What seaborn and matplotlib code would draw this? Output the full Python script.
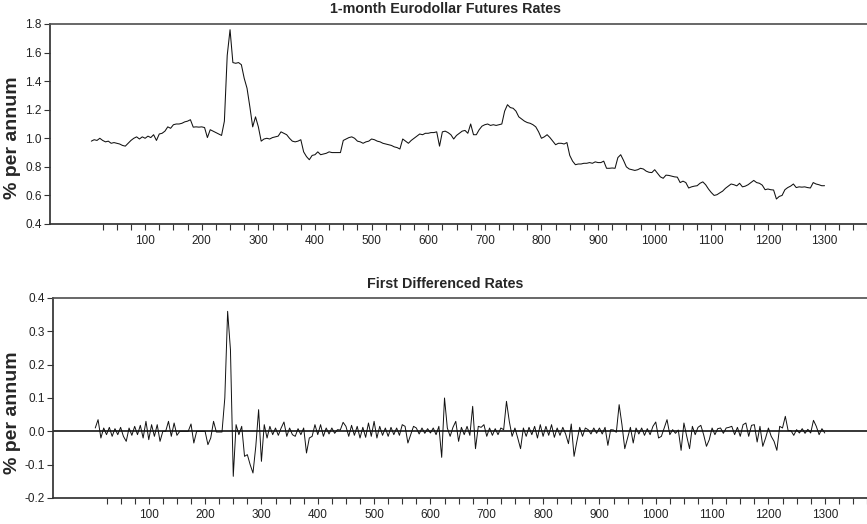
import numpy as np
import pandas as pd
import seaborn as sns
import matplotlib.pyplot as plt
from matplotlib.ticker import MultipleLocator, FormatStrFormatter

# ------------------------------------------------------------------
# data (every 5th trading day)
# ------------------------------------------------------------------
day = np.arange(5, 1301, 5)

rate = [
    0.98, 0.99, 0.985, 1.0, 0.985, 0.975, 0.98, 0.965, 0.97, 0.965,
    0.96, 0.95, 0.945, 0.965, 0.985, 1.0, 1.01, 0.995, 1.01, 1.0,
    1.015, 1.005, 1.025, 0.985, 1.03, 1.035, 1.05, 1.08, 1.07, 1.095,
    1.1, 1.1, 1.105, 1.115, 1.12, 1.13, 1.078, 1.08, 1.078, 1.08,
    1.075, 1.005, 1.06, 1.05, 1.04, 1.03, 1.02, 1.12, 1.58, 1.76,
    1.53, 1.525, 1.53, 1.515, 1.42, 1.35, 1.22, 1.08, 1.15, 1.08,
    0.98, 0.995, 1.0, 0.995, 1.005, 1.01, 1.015, 1.045, 1.035, 1.025,
    1.0, 0.98, 0.975, 0.98, 0.99, 0.905, 0.872, 0.85, 0.88, 0.885,
    0.905, 0.885, 0.89, 0.895, 0.905, 0.9, 0.9, 0.9, 0.9, 0.985,
    0.995, 1.005, 1.01, 1.0, 0.98, 0.975, 0.965, 0.975, 0.98, 0.995,
    0.99, 0.98, 0.975, 0.965, 0.96, 0.955, 0.95, 0.94, 0.935, 0.925,
    0.995, 0.98, 0.965, 0.985, 1.0, 1.015, 1.03, 1.025, 1.035, 1.035,
    1.04, 1.04, 1.045, 0.945, 1.045, 1.05, 1.04, 1.025, 0.995, 1.02,
    1.035, 1.05, 1.055, 1.035, 1.1, 1.025, 1.025, 1.06, 1.085, 1.095,
    1.1, 1.09, 1.095, 1.09, 1.095, 1.1, 1.19, 1.235, 1.215, 1.21,
    1.19, 1.15, 1.135, 1.12, 1.11, 1.105, 1.095, 1.08, 1.045, 1.0,
    1.01, 1.025, 1.005, 0.98, 0.955, 0.965, 0.965, 0.96, 0.97, 0.88,
    0.84, 0.815, 0.82, 0.82, 0.825, 0.825, 0.83, 0.825, 0.835, 0.83,
    0.83, 0.84, 0.79, 0.79, 0.792, 0.79, 0.865, 0.885, 0.845, 0.8,
    0.785, 0.78, 0.775, 0.78, 0.79, 0.785, 0.77, 0.762, 0.76, 0.78,
    0.755, 0.73, 0.72, 0.742, 0.74, 0.735, 0.73, 0.728, 0.69, 0.7,
    0.69, 0.652, 0.66, 0.665, 0.668, 0.685, 0.695, 0.675, 0.645, 0.62,
    0.6, 0.605, 0.618, 0.63, 0.65, 0.665, 0.68, 0.675, 0.667, 0.685,
    0.66, 0.665, 0.675, 0.69, 0.705, 0.69, 0.685, 0.672, 0.64, 0.645,
    0.64, 0.638, 0.575, 0.593, 0.6, 0.64, 0.655, 0.665, 0.68, 0.655,
    0.66, 0.658, 0.66, 0.655, 0.652, 0.69, 0.68, 0.675, 0.668, 0.668,
]

diff = [
    0.01, 0.035, -0.02, 0.01, -0.01, 0.012, -0.015, 0.008, -0.01, 0.012,
    -0.015, -0.03, 0.01, -0.012, 0.015, -0.01, 0.018, -0.02, 0.03, -0.025,
    0.02, -0.015, 0.02, -0.03, 0.0, 0.0, 0.03, -0.015, 0.025, -0.012,
    0.0, 0.0, 0.0, 0.0, 0.022, -0.035, 0.0, 0.0, 0.0, 0.0,
    -0.04, -0.02, 0.03, -0.002, -0.002, -0.002, 0.1, 0.36, 0.245, -0.135,
    0.02, -0.01, 0.015, -0.075, -0.07, -0.1, -0.125, -0.045, 0.065, -0.09,
    0.02, -0.02, 0.015, -0.01, 0.01, -0.012, 0.01, 0.028, -0.015, 0.01,
    -0.01, -0.015, 0.008, -0.01, 0.01, -0.065, -0.02, -0.015, 0.02, -0.01,
    0.02, -0.015, 0.01, -0.008, 0.01, -0.006, 0.005, 0.004, 0.027, 0.015,
    -0.015, 0.018, -0.012, 0.015, -0.02, 0.012, -0.018, 0.025, -0.015, 0.03,
    -0.02, 0.015, -0.012, 0.01, -0.015, 0.012, -0.01, 0.01, -0.012, 0.02,
    0.015, -0.035, -0.01, 0.015, 0.01, -0.008, 0.01, -0.006, 0.008, -0.005,
    0.01, -0.01, 0.015, -0.078, 0.1, 0.01, -0.015, 0.012, 0.03, -0.03,
    0.012, -0.01, 0.015, -0.012, 0.075, -0.052, 0.015, 0.012, 0.02, -0.015,
    0.01, -0.012, 0.008, -0.01, 0.01, 0.005, 0.09, 0.03, -0.015, 0.01,
    -0.02, -0.052, 0.01, -0.015, 0.012, -0.01, 0.015, -0.02, 0.02, -0.015,
    0.015, -0.012, 0.02, -0.018, 0.01, -0.012, 0.012, -0.008, -0.037, 0.022,
    -0.075, -0.03, 0.012, -0.015, 0.01, 0.005, -0.008, 0.01, -0.006, 0.01,
    -0.008, 0.012, -0.042, 0.005, 0.004, -0.003, 0.08, 0.02, -0.052, -0.02,
    0.012, -0.035, 0.01, -0.008, 0.01, -0.012, 0.008, -0.01, 0.015, 0.028,
    -0.02, -0.015, 0.01, 0.035, -0.01, 0.005, -0.006, 0.004, -0.057, 0.025,
    -0.015, -0.052, 0.015, -0.01, 0.012, 0.018, -0.01, -0.045, -0.025, 0.01,
    -0.01, 0.008, 0.01, -0.006, 0.01, 0.012, 0.015, -0.01, 0.012, -0.015,
    0.02, 0.025, -0.015, 0.018, 0.02, -0.032, 0.015, -0.045, -0.02, 0.01,
    -0.015, -0.03, -0.057, 0.015, 0.01, 0.045, 0.002, 0.002, -0.012, 0.005,
    -0.005, 0.008, -0.006, 0.006, -0.005, 0.033, 0.015, -0.01, 0.008, -0.005,
]

df = pd.DataFrame({'day': day, 'rate': rate, 'diff': diff})

# ------------------------------------------------------------------
# style
# ------------------------------------------------------------------
sns.set_theme(style='ticks')
plt.rcParams['font.family'] = ['Liberation Sans Narrow', 'Liberation Sans', 'DejaVu Sans']
plt.rcParams['axes.edgecolor'] = '#333333'
plt.rcParams['xtick.color'] = '#333333'
plt.rcParams['ytick.color'] = '#333333'
plt.rcParams['xtick.labelcolor'] = '#222222'
plt.rcParams['ytick.labelcolor'] = '#222222'

W, H = 867, 524
fig = plt.figure(figsize=(W / 100, H / 100), dpi=100)
ax1 = fig.add_axes([50 / W, 1 - 224 / H, 1 - 50 / W, 200 / H])
ax2 = fig.add_axes([53 / W, 1 - 498 / H, 1 - 53 / W, 200 / H])

sns.lineplot(data=df, x='day', y='rate', ax=ax1, color='#111111', lw=0.75)
sns.lineplot(data=df, x='day', y='diff', ax=ax2, color='#111111', lw=0.7)
ax2.axhline(0, color='black', lw=1.1, zorder=1)

ax1.set_xlim(-68, 1373)
ax1.set_ylim(0.4, 1.8)
ax1.yaxis.set_major_locator(MultipleLocator(0.2))
ax2.set_xlim(-70, 1373)
ax2.set_ylim(-0.2, 0.4)
ax2.yaxis.set_major_locator(MultipleLocator(0.1))

for ax in (ax1, ax2):
    ax.set_xticks(range(100, 1301, 100))
    ax.set_xticks(range(25, 1376, 25), minor=True)
    ax.yaxis.set_major_formatter(FormatStrFormatter('%.1f'))
    ax.tick_params(axis='both', which='both', direction='out', length=4, width=0.8,
                   labelsize=8.5, pad=2)
    ax.tick_params(axis='x', pad=4)
    ax.spines['right'].set_visible(False)
    ax.spines['top'].set_color('#555555')
    ax.set_xlabel('')
    ax.set_ylabel('')
    ax.grid(False)

fig.text(445 / W, 1 - 9 / H, '1-month Eurodollar Futures Rates', ha='center', va='center',
         fontsize=10.3, fontweight='bold')
fig.text(445 / W, 1 - 284 / H, 'First Differenced Rates', ha='center', va='center',
         fontsize=10.3, fontweight='bold')
for yc in (138, 413):
    fig.text(13 / W, 1 - yc / H, '% per annum', rotation=90, ha='center', va='center',
             fontsize=14, fontweight='bold', family=['Liberation Sans', 'DejaVu Sans'])

plt.savefig('out.png', dpi=100)
